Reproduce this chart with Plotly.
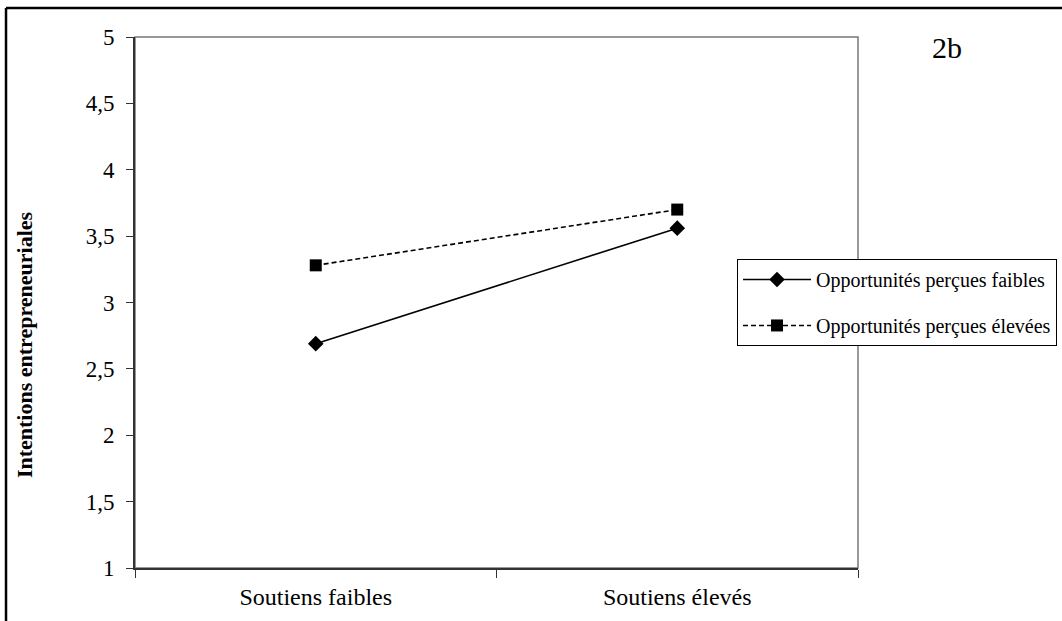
import plotly.graph_objects as go

categories = ["Soutiens faibles", "Soutiens élevés"]
series_names = ["Opportunités perçues faibles", "Opportunités perçues élevées"]
low_opp = [2.69, 3.56]
high_opp = [3.28, 3.70]
y_ticks = [1, 1.5, 2, 2.5, 3, 3.5, 4, 4.5, 5]
y_tick_labels = ["1", "1,5", "2", "2,5", "3", "3,5", "4", "4,5", "5"]

FONT = "Liberation Serif, Times New Roman, serif"

fig = go.Figure()
fig.add_trace(go.Scatter(
    x=categories, y=low_opp, name=series_names[0], mode="lines+markers",
    line=dict(color="black", width=1.6),
    marker=dict(symbol="diamond", size=12, color="black"),
    legendgroup="a",
))
fig.add_trace(go.Scatter(
    x=categories, y=high_opp, name=series_names[1], mode="lines+markers",
    line=dict(color="black", width=1.6, dash="5px,3px"),
    marker=dict(symbol="square", size=12, color="black"),
    legendgroup="b",
))

fig.update_layout(
    width=1062, height=621,
    margin=dict(l=135, r=204, t=37, b=53, autoexpand=False),
    paper_bgcolor="white", plot_bgcolor="white",
    font=dict(family=FONT, color="black", size=22),
    showlegend=True,
    legend=dict(
        xref="container", yref="container",
        x=0.694, y=0.583, xanchor="left", yanchor="top",
        bordercolor="black", borderwidth=1,
        font=dict(family=FONT, size=20, color="black"),
        tracegroupgap=17, traceorder="grouped",
        itemwidth=68,
        bgcolor="white",
    ),
    xaxis=dict(
        type="category", range=[-0.5, 1.5], tickson="boundaries",
        ticks="outside", ticklen=8, tickcolor="#333", tickwidth=1.2,
        showline=True, linecolor="#333", linewidth=2,
        showgrid=False, zeroline=False, automargin=False,
        ticklabelstandoff=6,
        tickfont=dict(family=FONT, size=24),
    ),
    yaxis=dict(
        range=[1, 5], tickvals=y_ticks, ticktext=y_tick_labels,
        ticks="outside", ticklen=7, tickcolor="#333", tickwidth=1.2,
        showline=True, linecolor="#333", linewidth=2,
        showgrid=False, zeroline=False, automargin=False,
        ticklabelstandoff=7,
        tickfont=dict(family=FONT, size=23),
    ),
    shapes=[
        dict(type="rect", xref="paper", yref="paper", x0=0, x1=1, y0=0, y1=1,
             line=dict(color="#777", width=1.5), layer="below"),
        dict(type="line", xref="paper", yref="paper", x0=-0.1784, x1=1.3, y0=1.0546, y1=1.0546,
             line=dict(color="black", width=2.5)),
        dict(type="line", xref="paper", yref="paper", x0=-0.1784, x1=-0.1784, y0=1.0546, y1=-0.2,
             line=dict(color="black", width=2.5)),
    ],
    annotations=[
        dict(text="<b>Intentions entrepreneuriales</b>", xref="paper", yref="paper",
             x=-0.152, y=0.42, xanchor="center", yanchor="middle",
             textangle=-90, showarrow=False,
             font=dict(family=FONT, size=22)),
        dict(text="2b", xref="paper", yref="paper", x=1.123, y=0.981,
             xanchor="center", yanchor="middle",
             showarrow=False, font=dict(family=FONT, size=30)),
    ],
)

fig.write_html(
    "out.html",
    config={"displayModeBar": False},
    post_script="document.body.style.margin='0';document.body.style.overflow='hidden';",
)
